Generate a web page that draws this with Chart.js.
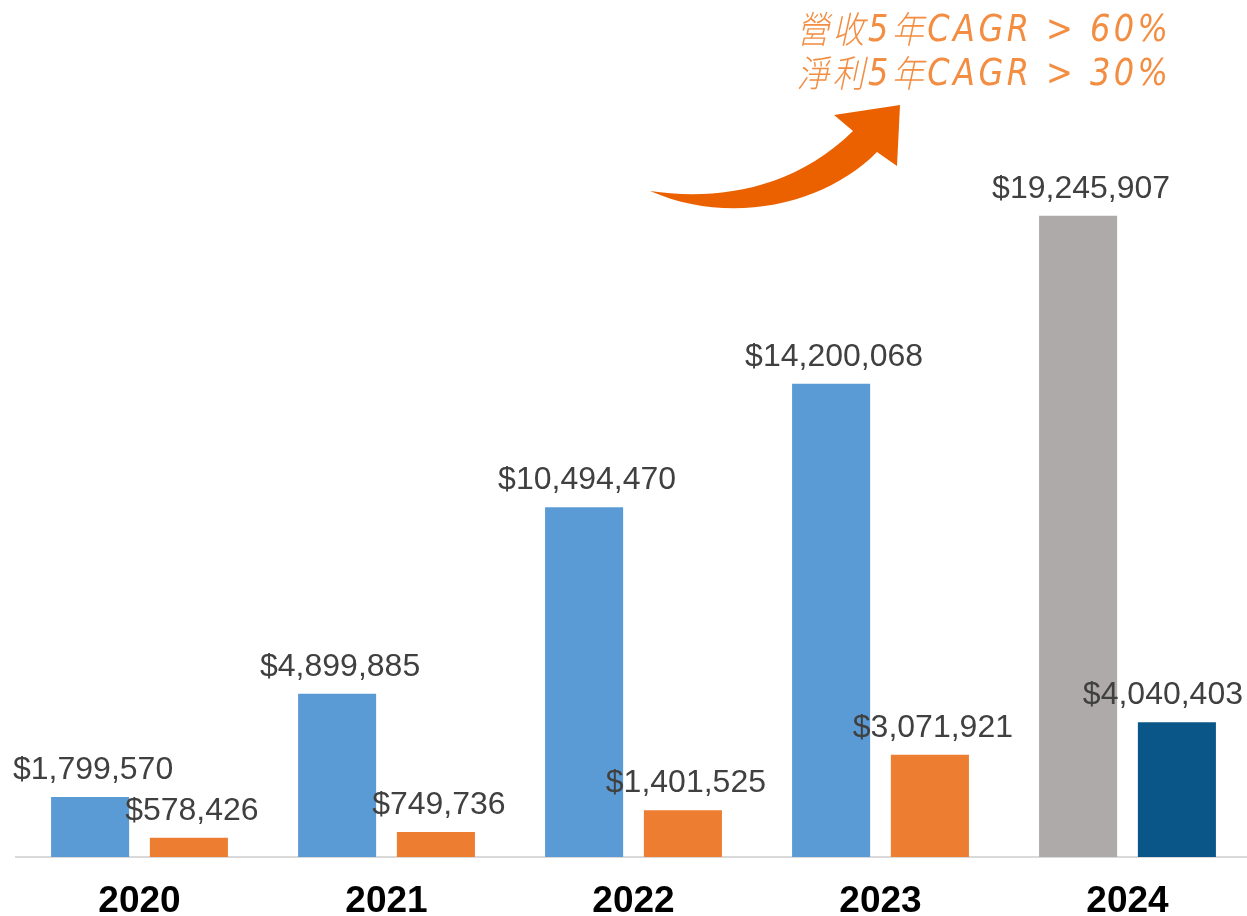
<!DOCTYPE html>
<html>
<head>
<meta charset="utf-8">
<script src="https://cdn.jsdelivr.net/npm/chart.js@4"></script>
<style>
  html, body { margin: 0; padding: 0; background: #fff; overflow: hidden; }
  #wrap { width: 1252px; height: 916px; }
</style>
</head>
<body>
<div id="wrap"><canvas id="c" width="1252" height="916"></canvas></div>
<script>
const years = ['2020', '2021', '2022', '2023', '2024'];
const revenue = [1799570, 4899885, 10494470, 14200068, 19245907];
const netProfit = [578426, 749736, 1401525, 3071921, 4040403];
const revenueColors = ['#5B9BD5', '#5B9BD5', '#5B9BD5', '#5B9BD5', '#AEAAAA'];
const profitColors = ['#ED7D31', '#ED7D31', '#ED7D31', '#ED7D31', '#0B5689'];
const noteLines = ['營收5年CAGR > 60%', '淨利5年CAGR > 30%'];

const fmt = v => '$' + v.toLocaleString('en-US');

const valueLabels = {
  id: 'valueLabels',
  afterDatasetsDraw(chart) {
    const ctx = chart.ctx;
    ctx.save();
    ctx.font = '32px "Liberation Sans", Arial, sans-serif';
    ctx.fillStyle = '#404040';
    ctx.textAlign = 'center';
    ctx.textBaseline = 'alphabetic';
    chart.data.datasets.forEach((ds, i) => {
      chart.getDatasetMeta(i).data.forEach((el, j) => {
        const t = fmt(ds.data[j]);
        const w = ctx.measureText(t).width;
        let x = el.x + 3;
        if (x + w / 2 > 1243) x = 1243 - w / 2;
        ctx.fillText(t, x, el.y - 18);
      });
    });
    ctx.restore();
  }
};

const cjkFont = 'italic 300 37px "Noto Sans CJK TC", sans-serif';
const latinFont = 'italic 300 37px "DejaVu Sans", sans-serif';
const isCJK = ch => /[\u3000-\u9fff]/.test(ch);

const annotation = {
  id: 'annotation',
  afterDraw(chart) {
    const ctx = chart.ctx;
    ctx.save();
    // curved arrow
    ctx.fillStyle = '#EB6100';
    ctx.beginPath();
    ctx.moveTo(650, 191);
    ctx.bezierCurveTo(710, 200, 790, 193, 853, 131);
    ctx.lineTo(834, 115);
    ctx.lineTo(900, 105);
    ctx.lineTo(897, 166);
    ctx.lineTo(877, 152);
    ctx.bezierCurveTo(825, 205, 730, 226, 650, 191);
    ctx.closePath();
    ctx.fill();
    ctx.restore();

    // note text: natural layout with small tracking, squeezed horizontally to fit the box
    const left = 797, right = 1168, track = 4;
    const baselines = [41, 85];
    noteLines.forEach((t, k) => {
      const raw = Array.from(t);
      const widths = raw.map(c => {
        ctx.font = isCJK(c) ? cjkFont : latinFont;
        return ctx.measureText(c).width;
      });
      const total = widths.reduce((a, b) => a + b, 0) + track * (raw.length - 1);
      const sx = (right - left) / total;
      ctx.save();
      ctx.fillStyle = '#F28D42';
      ctx.textAlign = 'left';
      ctx.textBaseline = 'alphabetic';
      ctx.translate(left, baselines[k]);
      ctx.scale(sx, 1);
      let x = 0;
      raw.forEach((c, i) => {
        ctx.font = isCJK(c) ? cjkFont : latinFont;
        ctx.fillText(c, x, isCJK(c) ? 2 : 0);
        x += widths[i] + track;
      });
      ctx.restore();
    });
  }
};

new Chart(document.getElementById('c'), {
  type: 'bar',
  data: {
    labels: years,
    datasets: [
      { label: '營收', data: revenue, backgroundColor: revenueColors },
      { label: '淨利', data: netProfit, backgroundColor: profitColors }
    ]
  },
  options: {
    responsive: false,
    animation: false,
    events: [],
    layout: { padding: { left: 16, right: 1, top: 24, bottom: 0 } },
    plugins: { legend: { display: false }, tooltip: { enabled: false }, title: { display: false } },
    datasets: { bar: { categoryPercentage: 0.8, barPercentage: 0.79 } },
    scales: {
      x: {
        grid: { display: false, drawTicks: false },
        border: { display: true, color: '#D9D9D9', width: 2 },
        ticks: {
          color: '#000000',
          font: { family: '"Liberation Sans", Arial, sans-serif', size: 37, weight: 'bold' },
          padding: 23,
          maxRotation: 0
        },
        afterFit(scale) { scale.height = 59; }
      },
      y: {
        display: false,
        min: 0,
        max: 25000000
      }
    }
  },
  plugins: [valueLabels, annotation]
});
</script>
</body>
</html>
